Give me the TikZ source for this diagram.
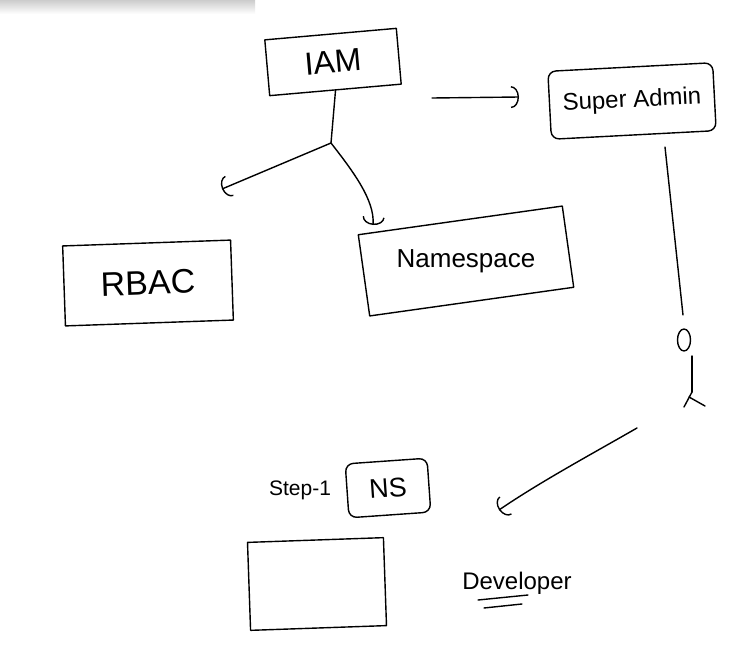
\documentclass[tikz,border=0pt]{standalone}
\usepackage{fontspec}
\setmainfont{Liberation Sans}
\usetikzlibrary{arrows.meta,shapes.geometric}
\begin{document}
\begin{tikzpicture}[x=1pt,y=-1pt,
  ink/.style={line width=1.4pt, line cap=round, line join=round, black},
  box/.style={ink, draw, rectangle, inner sep=0pt},
  tip/.style={-{Arc Barb[length=8pt,width=22pt,line width=1.4pt]}},
  txt/.style={font=\fontsize{#1}{#1}\selectfont}]
\useasboundingbox (0,0) rectangle (740,667);
\fill[white] (0,0) rectangle (740,667);
\shade[top color=black!20, bottom color=white] (0,0) rectangle (255,14);
% boxes
\node[box, minimum width=132, minimum height=56, rotate=5, txt=32] (iam) at (333,62) {IAM};
\node[box, minimum width=165, minimum height=68, rounded corners=8pt, rotate=3, txt=24] (sa) at (632,101) {Super Admin};
\node[box, minimum width=168, minimum height=80, rotate=2, txt=34] (rbac) at (148,283) {RBAC};
\node[box, minimum width=206, minimum height=82, rotate=8] (ns) at (466,261) {};
\node[txt=26] (nstext) at (ns.center) {Namespace};
\node[txt=21] (step) at (300,490) {Step-1};
\node[box, minimum width=82, minimum height=54, rounded corners=8pt, rotate=4, txt=27] (nsb) at (388,488) {NS};
\node[box, minimum width=136, minimum height=88, rotate=2] (empty) at (317,584) {};
\node[txt=24] (dev) at (517,583) {Developer};
% connectors
\coordinate (br) at (331,143);
\draw[ink] (iam.south) -- (br);
\coordinate (rbacTip) at (222,189);
\draw[ink,tip] (br) -- (rbacTip);
\coordinate (nsTip) at (373,225);
\draw[ink,tip] (br) .. controls (352,170) and (375,200) .. (nsTip);
\coordinate (a1) at (432,98);
\coordinate (a2) at (519,97);
\draw[ink,tip] (a1) -- (a2);
% super admin down
\coordinate (s1) at (665,147);
\coordinate (s2) at (683,315);
\draw[ink] (s1) -- (s2);
\node[ink, draw, ellipse, minimum width=13, minimum height=22, inner sep=0pt] (oo) at (684,340) {};
\coordinate (s3) at (692,356);
\coordinate (s4) at (692,392);
\draw[ink] (s3) -- (s4);
\coordinate (l1) at (684,407);
\coordinate (l2) at (689,397);
\coordinate (l3) at (705,406);
\draw[ink] (s4) -- (l1);
\draw[ink] (l2) -- (l3);
% to developer
\coordinate (d1) at (637,428);
\coordinate (d2) at (499,510);
\draw[ink,tip] (d1) .. controls (590,455) and (540,482) .. (d2);
% underline
\coordinate (u1) at (478,600);
\coordinate (u2) at (528,595);
\coordinate (u3) at (484,608);
\coordinate (u4) at (522,604);
\draw[ink] (u1) -- (u2);
\draw[ink] (u3) -- (u4);
\end{tikzpicture}
\end{document}
